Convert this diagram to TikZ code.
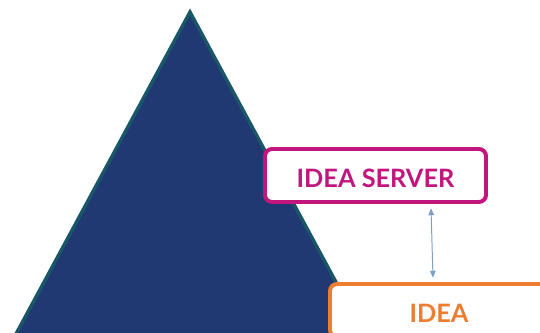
\documentclass[tikz,border=0pt]{standalone}
\usepackage{fontspec}
\setmainfont{Lato}
\usetikzlibrary{arrows.meta}
\definecolor{navy}{RGB}{33,57,115}
\definecolor{teal}{RGB}{24,86,104}
\definecolor{magenta}{RGB}{192,22,126}
\definecolor{orange}{RGB}{237,125,49}
\definecolor{link}{RGB}{127,159,199}
\tikzset{
  box/.style={draw, line width=2.8pt, rounded corners=5pt, fill=white,
    font=\fontsize{18}{20}\selectfont\bfseries, inner sep=0pt,
    text height=17pt, text depth=0pt}
}

\begin{document}
\begin{tikzpicture}[x=0.025cm, y=-0.025cm]
                \useasboundingbox (0,0) rectangle (540,333);
                \clip (0,0) rectangle (540,333);
                % pyramid
                \draw[fill=navy, draw=teal, line width=2.4pt] (190,12) -- (10,345) -- (370,345) -- cycle;
                % boxes
                \node[box, draw=magenta, text=magenta, minimum width=221*0.025cm, minimum height=53*0.025cm] (server) at (375.5,175.5) {IDEA SERVER};
                \node[box, draw=orange, text=orange, minimum width=218*0.025cm, minimum height=53*0.025cm] (idea) at (439,310.5) {IDEA};
                % link
                \coordinate (top) at ([xshift=55.5*0.025cm, yshift=-3pt]server.south);
                \coordinate (bot) at ([xshift=-6*0.025cm, yshift=3pt]idea.north);
                \draw[{Triangle[length=5pt,width=4pt]}-{Triangle[length=5pt,width=4pt]}, link, line width=0.7pt] (top) -- (bot);
\end{tikzpicture}
\end{document}
